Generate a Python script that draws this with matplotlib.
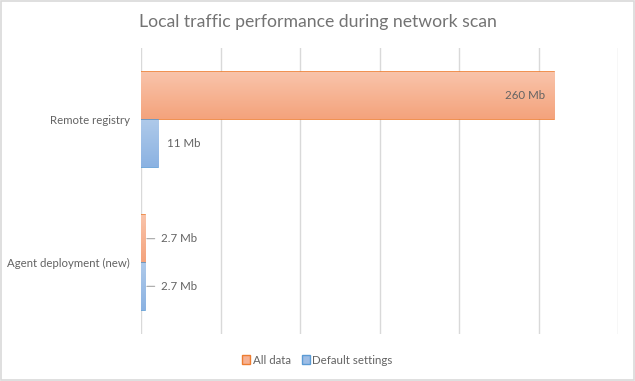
import matplotlib
matplotlib.use("Agg")
import matplotlib.pyplot as plt
import numpy as np
from matplotlib.colors import LinearSegmentedColormap
from matplotlib.patches import Rectangle

categories = ["Remote registry", "Agent deployment (new)"]
series_names = ["All data", "Default settings"]
all_data = [260, 2.7]
default_settings = [11, 2.7]
value_labels_all = ["260 Mb", "2.7 Mb"]
value_labels_def = ["11 Mb", "2.7 Mb"]

plt.rcParams["font.family"] = ["Lato", "DejaVu Sans"]
grid_c = "#d9d9d9"
lab_c = "#636363"

fig = plt.figure(figsize=(6.35, 3.81), dpi=100)
fig.patch.set_facecolor("white")
fig.patches.append(Rectangle((0.001, 0.002), 0.997, 0.995, transform=fig.transFigure,
                             fill=False, edgecolor=grid_c, linewidth=1.2))

W, H = 635.0, 381.0
ax = fig.add_axes([141 / W, 1 - 334 / H, (618 - 141) / W, (334 - 48) / H])

bh = 1.0 / 3  # 50% gap width
ypos = np.arange(len(categories))
orange_cm = LinearSegmentedColormap.from_list("o", ["#f9c4ab", "#f4a37c"])
blue_cm = LinearSegmentedColormap.from_list("b", ["#afcaea", "#8bb2e2"])

b1 = ax.barh(ypos - bh / 2, all_data, height=bh, color="none", edgecolor="#ed7d31",
             linewidth=1.2, label=series_names[0])
b2 = ax.barh(ypos + bh / 2, default_settings, height=bh, color="none", edgecolor="#5b9bd5",
             linewidth=1.2, label=series_names[1])

grad = np.linspace(0, 1, 64).reshape(-1, 1)
for bars, cm in ((b1, orange_cm), (b2, blue_cm)):
    for p in bars:
        x0, y0 = p.get_x(), p.get_y()
        w, h = p.get_width(), p.get_height()
        im = ax.imshow(grad, cmap=cm, aspect="auto", extent=(x0, x0 + w, y0 + h, y0),
                       zorder=1.5, interpolation="bilinear")
        im.set_clip_path(p)

ax.set_xlim(0, 300)
ax.set_ylim(len(categories) - 0.5, -0.5)
ax.set_xticks(np.arange(0, 301, 50))
ax.xaxis.grid(True, color=grid_c, linewidth=1)
ax.set_axisbelow(True)
ax.tick_params(axis="x", length=0, labelbottom=False)
ax.set_yticks(ypos)
ax.set_yticklabels(categories, fontsize=8.2, color=lab_c)
ax.tick_params(axis="y", length=0, pad=8)
for s in ax.spines.values():
    s.set_visible(False)

# data labels
ax.annotate(value_labels_all[0], (all_data[0], ypos[0] - bh / 2), xytext=(-7, 0),
            textcoords="offset points", ha="right", va="center", fontsize=8.3, color=lab_c)
ax.annotate(value_labels_def[0], (default_settings[0], ypos[0] + bh / 2), xytext=(6, 0),
            textcoords="offset points", ha="left", va="center", fontsize=8.3, color=lab_c)
for yy, lab in ((ypos[1] - bh / 2, value_labels_all[1]), (ypos[1] + bh / 2, value_labels_def[1])):
    ax.annotate("", (all_data[1] + 1.0, yy), xytext=(8.6, yy), textcoords="data",
                arrowprops=dict(arrowstyle="-", color="#a6a6a6", lw=0.8, shrinkA=0, shrinkB=0))
    ax.annotate(lab, (all_data[1], yy), xytext=(11, 0), textcoords="offset points",
                ha="left", va="center", fontsize=8.3, color=lab_c)

fig.text(0.5, 1 - 22 / H, "Local traffic performance during network scan", ha="center",
         va="center", fontsize=12.7, color="#737373")

handles = [Rectangle((0, 0), 1, 1, facecolor="#f6b193", edgecolor="#ed7d31"),
           Rectangle((0, 0), 1, 1, facecolor="#9dbde5", edgecolor="#5b9bd5")]
fig.legend(handles, series_names, loc="center", bbox_to_anchor=(0.5, 1 - 360 / H), ncol=2,
           frameon=False, fontsize=8.3, handlelength=0.7, handleheight=0.7,
           handletextpad=0.2, columnspacing=1.0, labelcolor=lab_c)

fig.savefig("out.png", dpi=100)
